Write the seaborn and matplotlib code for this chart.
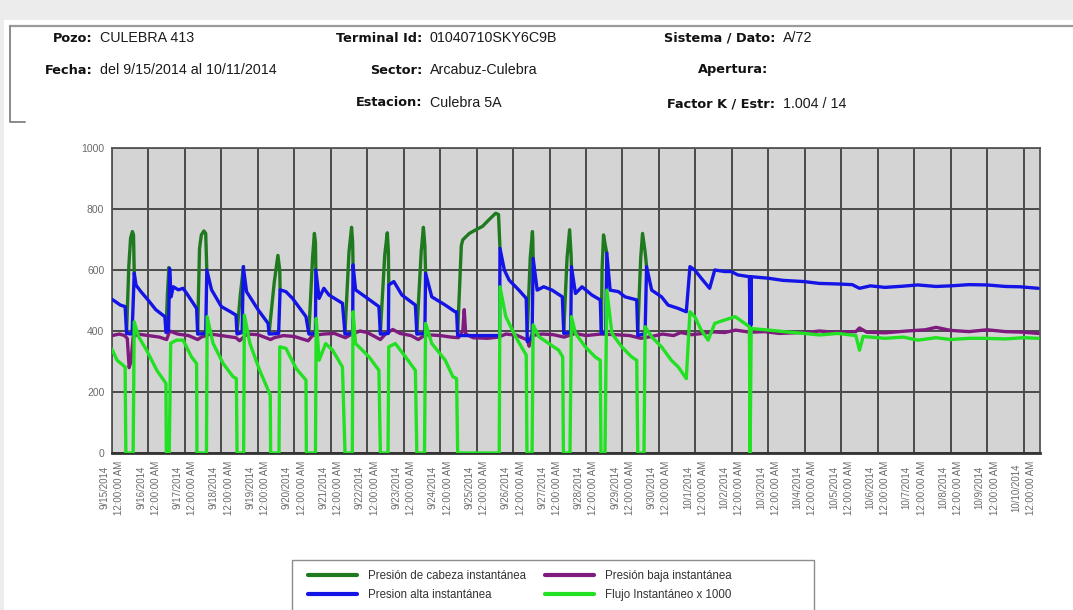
import numpy as np
import pandas as pd
import matplotlib
matplotlib.use("Agg")
import matplotlib.pyplot as plt
from matplotlib.lines import Line2D
from matplotlib.patches import Rectangle
import seaborn as sns

# ---------------- data (days since 9/15/2014 00:00) ----------------
alta_t = [0.00, 0.23, 0.36, 0.40, 0.55, 0.61, 0.66, 0.80, 1.00, 1.20, 1.45, 1.48, 1.55, 1.58, 1.62, 1.68,
          1.82, 1.95, 2.05, 2.32, 2.35, 2.57, 2.60, 2.73, 3.00, 3.25, 3.40, 3.43, 3.57, 3.60, 3.69, 4.01,
          4.28, 4.31, 4.57, 4.61, 4.77, 4.95, 5.32, 5.40, 5.58, 5.59, 5.68, 5.81, 5.95, 6.32, 6.39, 6.60,
          6.61, 6.68, 6.95, 7.32, 7.36, 7.58, 7.59, 7.73, 7.95, 8.32, 8.36, 8.58, 8.60, 8.77, 9.14, 9.41,
          9.45, 9.48, 10.63, 10.64, 10.76, 10.89, 11.16, 11.36, 11.39, 11.52, 11.55, 11.66, 11.84, 12.07,
          12.35, 12.39, 12.58, 12.60, 12.71, 12.89, 13.16, 13.39, 13.42, 13.54, 13.57, 13.66, 13.89, 14.07,
          14.39, 14.42, 14.62, 14.66, 14.80, 15.07, 15.25, 15.53, 15.75, 15.85, 15.98, 16.16, 16.39, 16.53,
          16.80, 16.98, 17.16, 17.48, 17.50, 17.51, 17.52, 17.53, 18.00, 18.40, 18.98, 19.40, 19.95, 20.30,
          20.50, 20.80, 21.20, 21.70, 22.10, 22.60, 23.00, 23.50, 24.00, 24.50, 24.90, 25.40]
alta_v = [504, 485, 480, 392, 390, 590, 550, 528, 500, 470, 447, 395, 400, 605, 512, 545,
          535, 540, 523, 474, 390, 392, 600, 535, 480, 463, 452, 390, 395, 611, 529, 469,
          425, 390, 392, 535, 529, 507, 447, 390, 392, 600, 507, 540, 518, 491, 390, 392,
          617, 535, 512, 480, 390, 392, 551, 562, 518, 485, 390, 392, 589, 512, 485, 463,
          463, 385, 385, 671, 600, 567, 534, 507, 365, 380, 638, 534, 545, 534,
          512, 392, 395, 611, 523, 545, 518, 502, 392, 395, 655, 534, 529, 512,
          502, 385, 392, 611, 534, 512, 485, 474, 463, 611, 600, 573, 540, 600,
          595, 595, 584, 578, 415, 578, 418, 578, 573, 566, 562, 556, 554, 552,
          540, 548, 543, 547, 551, 546, 548, 552, 551, 546, 545, 540]

cab_seg = [1] * 6 + [2] * 4 + [3] * 6 + [4] * 4 + [5] * 5 + [6] * 5 + [7] * 5 + [8] * 5 + [9] * 5 + \
          [10] * 10 + [11] * 5 + [12] * 5 + [13] * 5 + [14] * 5
cab_t = [0.40, 0.46, 0.51, 0.56, 0.59, 0.61,
         1.48, 1.52, 1.56, 1.60,
         2.35, 2.40, 2.45, 2.52, 2.57, 2.60,
         3.43, 3.52, 3.60, 3.61,
         4.31, 4.45, 4.55, 4.60, 4.61,
         5.40, 5.50, 5.55, 5.58, 5.59,
         6.39, 6.50, 6.57, 6.60, 6.61,
         7.36, 7.48, 7.55, 7.58, 7.59,
         8.36, 8.48, 8.54, 8.58, 8.60,
         9.48, 9.58, 9.62, 9.80, 9.98, 10.16, 10.34, 10.52, 10.60, 10.64,
         11.39, 11.47, 11.53, 11.54, 11.55,
         12.39, 12.48, 12.55, 12.59, 12.60,
         13.42, 13.44, 13.48, 13.53, 13.57,
         14.42, 14.50, 14.55, 14.62, 14.66]
cab_v = [395, 610, 705, 726, 715, 590,
         400, 520, 608, 540,
         400, 670, 715, 728, 720, 600,
         395, 520, 605, 611,
         395, 560, 648, 600, 535,
         395, 640, 720, 690, 600,
         395, 660, 740, 690, 617,
         395, 650, 722, 660, 551,
         395, 660, 740, 680, 589,
         395, 680, 699, 720, 732, 743, 765, 786, 782, 671,
         400, 640, 726, 700, 638,
         400, 640, 732, 650, 611,
         400, 600, 715, 680, 655,
         400, 640, 720, 660, 611]

baja_t = [0.0, 0.2, 0.35, 0.42, 0.47, 0.52, 0.58, 0.7, 1.0, 1.3, 1.5, 1.58, 1.8, 2.1, 2.35, 2.45, 2.7, 3.0,
          3.4, 3.5, 3.7, 4.0, 4.35, 4.45, 4.7, 5.0, 5.38, 5.5, 5.8, 6.1, 6.4, 6.55, 6.8, 7.0, 7.36, 7.5,
          7.7, 7.9, 8.2, 8.4, 8.6, 9.0, 9.3, 9.5, 9.62, 9.66, 9.70, 9.9, 10.3, 10.6, 10.8, 11.1, 11.4,
          11.44, 11.5, 11.8, 12.1, 12.4, 12.7, 13.0, 13.4, 13.8, 14.2, 14.5, 14.8, 15.1, 15.4, 15.6, 15.9,
          16.2, 16.5, 16.8, 17.1, 17.5, 17.9, 18.3, 18.7, 19.1, 19.4, 19.8, 20.4, 20.5, 20.7, 21.2, 21.8,
          22.3, 22.6, 23.0, 23.5, 24.0, 24.5, 25.0, 25.4]
baja_v = [385, 390, 385, 375, 280, 300, 380, 390, 385, 380, 372, 400, 390, 385, 372, 380, 390, 385,
          378, 368, 390, 388, 372, 378, 385, 382, 368, 385, 390, 392, 378, 388, 400, 395, 372, 390,
          405, 392, 385, 372, 388, 385, 380, 378, 400, 470, 390, 378, 376, 380, 390, 386, 370,
          350, 385, 390, 388, 380, 392, 385, 390, 388, 385, 376, 382, 390, 385, 395, 388,
          392, 397, 395, 403, 396, 398, 392, 394, 396, 400, 396, 398, 410, 396, 394, 400,
          404, 412, 402, 398, 404, 398, 396, 392]

flujo_t = [0.00, 0.14, 0.36, 0.38, 0.58, 0.61, 0.73, 0.95, 1.23, 1.48, 1.49, 1.57, 1.61, 1.77, 1.95, 2.18,
           2.32, 2.33, 2.59, 2.61, 2.77, 3.05, 3.32, 3.41, 3.43, 3.61, 3.63, 3.78, 4.05, 4.34, 4.35, 4.58,
           4.60, 4.77, 5.05, 5.32, 5.33, 5.58, 5.60, 5.68, 5.86, 6.05, 6.32, 6.39, 6.59, 6.61, 6.68, 7.05,
           7.32, 7.36, 7.57, 7.59, 7.77, 8.05, 8.32, 8.36, 8.57, 8.60, 8.77, 9.14, 9.35, 9.45, 9.48, 10.62,
           10.64, 10.80, 11.07, 11.36, 11.38, 11.52, 11.55, 11.71, 11.98, 12.25, 12.36, 12.38, 12.56, 12.60,
           12.71, 12.98, 13.25, 13.39, 13.41, 13.52, 13.57, 13.71, 13.98, 14.25, 14.39, 14.42, 14.59, 14.62,
           14.80, 15.07, 15.34, 15.53, 15.75, 15.85, 15.98, 16.16, 16.35, 16.53, 16.80, 17.09, 17.35, 17.48,
           17.50, 17.53, 18.0, 18.5, 19.0, 19.4, 19.9, 20.4, 20.5, 20.6, 21.2, 21.7, 22.1, 22.6, 23.0,
           23.5, 23.9, 24.5, 25.0, 25.4]
flujo_v = [340, 304, 282, 0, 0, 430, 381, 337, 271, 228, 0, 0, 360, 370, 370, 315,
           293, 0, 0, 447, 360, 293, 250, 244, 0, 0, 452, 360, 271, 190, 0, 0,
           348, 343, 277, 239, 0, 0, 441, 304, 359, 337, 282, 0, 0, 463, 359, 315,
           271, 0, 0, 348, 359, 315, 271, 0, 0, 425, 359, 304, 250, 244, 0, 0,
           545, 447, 381, 321, 0, 0, 420, 381, 359, 337, 315, 0, 0, 447,
           392, 348, 315, 304, 0, 0, 534, 392, 348, 315, 304, 0, 0, 414,
           381, 348, 304, 282, 244, 463, 447, 403, 370, 425, 436, 447, 425, 414,
           0, 408, 403, 397, 392, 387, 392, 385, 337, 382, 376, 380, 370, 378, 372,
           376, 376, 374, 378, 376]

start_date = "2014-09-15"
n_days = 26
tick_labels = [f"{d.month}/{d.day}/{d.year}\n12:00:00 AM"
               for d in pd.date_range(start_date, periods=n_days, freq="D")]

series_names = ["Presión de cabeza instantánea", "Presion alta instantánea",
                "Presión baja instantánea", "Flujo Instantáneo x 1000"]
colors = ["#1f7a1f", "#1414e6", "#7f1a7f", "#22e022"]

header = [
    ("Pozo:", "CULEBRA 413", 93, 100, 38),
    ("Fecha:", "del 9/15/2014 al 10/11/2014", 93, 100, 70),
    ("Terminal Id:", "01040710SKY6C9B", 422, 430, 38),
    ("Sector:", "Arcabuz-Culebra", 422, 430, 70),
    ("Estacion:", "Culebra 5A", 422, 430, 103),
    ("Sistema / Dato:", "A/72", 775, 783, 38),
    ("Apertura:", "", 768, 783, 70),
    ("Factor K / Estr:", "1.004 / 14", 775, 783, 104),
]

# ---------------- figure ----------------
sns.set_style("white")
plt.rcParams["font.family"] = ["Liberation Sans", "DejaVu Sans"]

W, H = 1073, 610
fig = plt.figure(figsize=(W / 100, H / 100), dpi=100, facecolor="white")

def fx(px):
    return px / W

def fy(py):
    return 1 - py / H

# background bands and header frame
fig.patches.append(Rectangle((0, fy(20)), 1, 1 - fy(20), transform=fig.transFigure,
                             facecolor="#ececec", edgecolor="none", zorder=0))
fig.patches.append(Rectangle((0, 0), fx(4), 1, transform=fig.transFigure,
                             facecolor="#ececec", edgecolor="none", zorder=0))
fig.lines.append(Line2D([fx(10), 1], [fy(26), fy(26)], transform=fig.transFigure,
                        color="#9a9a9a", lw=1.6))
fig.lines.append(Line2D([fx(10), fx(10), fx(25)], [fy(26), fy(122), fy(122)],
                        transform=fig.transFigure, color="#8a8a8a", lw=1.4))

for lab, val, xr, xv, y in header:
    fig.text(fx(xr), fy(y), lab, ha="right", va="center", fontsize=9.3,
             fontweight="bold", family=["DejaVu Sans"], color="#111111")
    if val:
        fig.text(fx(xv), fy(y), val, ha="left", va="center", fontsize=10.3,
                 color="#1a1a1a")

ax = fig.add_axes([fx(112), fy(453), fx(1040) - fx(112), fy(148) - fy(453)])
ax.set_facecolor("#d4d4d4")

df_cab = pd.DataFrame({"t": cab_t, "v": cab_v, "seg": cab_seg})
sns.lineplot(data=df_cab, x="t", y="v", units="seg", estimator=None, sort=False,
             color=colors[0], lw=2.4, ax=ax, zorder=3)
sns.lineplot(x=alta_t, y=alta_v, sort=False, estimator=None, color=colors[1], lw=2.4, ax=ax, zorder=4)
sns.lineplot(x=baja_t, y=baja_v, sort=False, estimator=None, color=colors[2], lw=2.4, ax=ax, zorder=3.5)
sns.lineplot(x=flujo_t, y=flujo_v, sort=False, estimator=None, color=colors[3], lw=2.4, ax=ax, zorder=5)

ax.set_xlim(0, 25.45)
ax.set_ylim(0, 1000)
ax.set_xticks(range(n_days))
ax.set_xticklabels(tick_labels, rotation=90, fontsize=7, color="#6a6a6a",
                   linespacing=1.6, va="top", ha="center")
ax.set_yticks(range(0, 1001, 200))
ax.set_yticklabels([str(v) for v in range(0, 1001, 200)], fontsize=7.5, color="#6a6a6a")
ax.tick_params(axis="both", direction="out", length=4, width=1.2, color="#444444", pad=1.5)
ax.grid(True, color="#4a4a4a", lw=1.4, zorder=1)
ax.set_axisbelow(True)
for s in ax.spines.values():
    s.set_color("#555555")
    s.set_linewidth(1.3)
ax.spines["bottom"].set_linewidth(2.0)
ax.spines["bottom"].set_color("#333333")
ax.set_xlabel("")
ax.set_ylabel("")

# legend
fig.patches.append(Rectangle((fx(292), fy(614)), fx(814) - fx(292), fy(560) - fy(614),
                             transform=fig.transFigure, facecolor="white",
                             edgecolor="#8c8c8c", lw=1.0, zorder=1))
handles = [Line2D([], [], color=c, lw=3) for c in colors]
leg = fig.legend(handles, series_names, loc="upper left",
                 bbox_to_anchor=(fx(306), fy(568)), ncol=2, frameon=False,
                 fontsize=8.3, handlelength=4.2, handletextpad=0.95, columnspacing=1.7,
                 labelspacing=0.6, borderaxespad=0, borderpad=0.2)
for t in leg.get_texts():
    t.set_color("#333333")

fig.savefig("out.png", dpi=100, facecolor="white")
